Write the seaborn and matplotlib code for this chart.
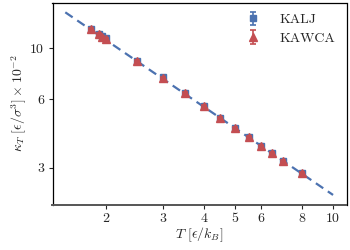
import matplotlib
matplotlib.use('Agg')
import matplotlib.pyplot as plt
import seaborn as sns
import numpy as np
import pandas as pd
from matplotlib.ticker import FixedLocator, NullLocator, FixedFormatter

# temperatures and compressibility (units of 1e-2)
T = [1.8, 1.9, 1.95, 2.0, 2.5, 3.0, 3.5, 4.0, 4.5, 5.0, 5.5, 6.0, 6.5, 7.0, 8.0]
kalj = [12.2, 11.6, 11.3, 11.07, 8.85, 7.46, 6.41, 5.61, 4.97, 4.50, 4.11, 3.75, 3.49, 3.22, 2.85]
kalj_err = [0.12, 0.11, 0.11, 0.1, 0.09, 0.07, 0.06, 0.05, 0.05, 0.04, 0.04, 0.04, 0.03, 0.03, 0.03]
kawca = [12.15, 11.55, 11.25, 11.02, 8.82, 7.44, 6.39, 5.60, 4.96, 4.49, 4.10, 3.74, 3.48, 3.21, 2.84]
kawca_err = [0.12, 0.11, 0.11, 0.1, 0.09, 0.07, 0.06, 0.05, 0.05, 0.04, 0.04, 0.04, 0.03, 0.03, 0.03]

# power-law fit line
fit_T = [1.5, 10.0]
fit_k = [14.4, 2.28]

sns.set_theme(style='ticks')
plt.rcParams['font.family'] = ['cmr10', 'DejaVu Serif']
plt.rcParams['mathtext.fontset'] = 'cm'
plt.rcParams['axes.formatter.use_mathtext'] = True

blue = '#4C72B0'
red = '#C44E52'

fig, ax = plt.subplots(figsize=(3.5, 2.5), dpi=100)

df_fit = pd.DataFrame({'T': fit_T, 'k': fit_k})
sns.lineplot(data=df_fit, x='T', y='k', ax=ax, color=blue, linestyle=(0, (4, 2.5)),
             linewidth=1.6, zorder=1)

ax.errorbar(T, kalj, yerr=kalj_err, fmt='s', color=blue, markersize=5, capsize=2.5,
            elinewidth=1.2, capthick=1.2, label='KALJ', zorder=2)
ax.errorbar(T, kawca, yerr=kawca_err, fmt='^', color=red, markersize=5.5, capsize=2.5,
            elinewidth=1.2, capthick=1.2, label='KAWCA', zorder=3)

ax.set_xscale('log')
ax.set_yscale('log')
ax.set_xlim(1.37, 11.0)
ax.set_ylim(2.06, 15.9)

xt = [2, 3, 4, 5, 6, 8, 10]
yt = [3, 6, 10]
ax.xaxis.set_major_locator(FixedLocator(xt))
ax.xaxis.set_major_formatter(FixedFormatter([str(v) for v in xt]))
ax.xaxis.set_minor_locator(NullLocator())
ax.yaxis.set_major_locator(FixedLocator(yt))
ax.yaxis.set_major_formatter(FixedFormatter([str(v) for v in yt]))
ax.yaxis.set_minor_locator(NullLocator())
ax.tick_params(labelsize=10, length=3, width=0.8, pad=3)

ax.set_xlabel(r'$T\ [\epsilon/k_B]$', fontsize=10, labelpad=0)
ax.set_ylabel(r'$\kappa_T\ [\epsilon/\sigma^3] \times 10^{-2}$', fontsize=10, labelpad=1)

for s in ['top', 'right', 'left']:
    ax.spines[s].set_color('black')
    ax.spines[s].set_linewidth(0.9)
ax.spines['bottom'].set_color('#555555')
ax.spines['bottom'].set_linewidth(1.4)

ax.legend(loc='upper right', frameon=False, fontsize=10, handlelength=1.5,
          borderaxespad=0.4, handletextpad=1.2, labelspacing=0.4)

fig.subplots_adjust(left=0.15, right=0.99, top=0.99, bottom=0.18)
fig.savefig('out.png', dpi=100)
